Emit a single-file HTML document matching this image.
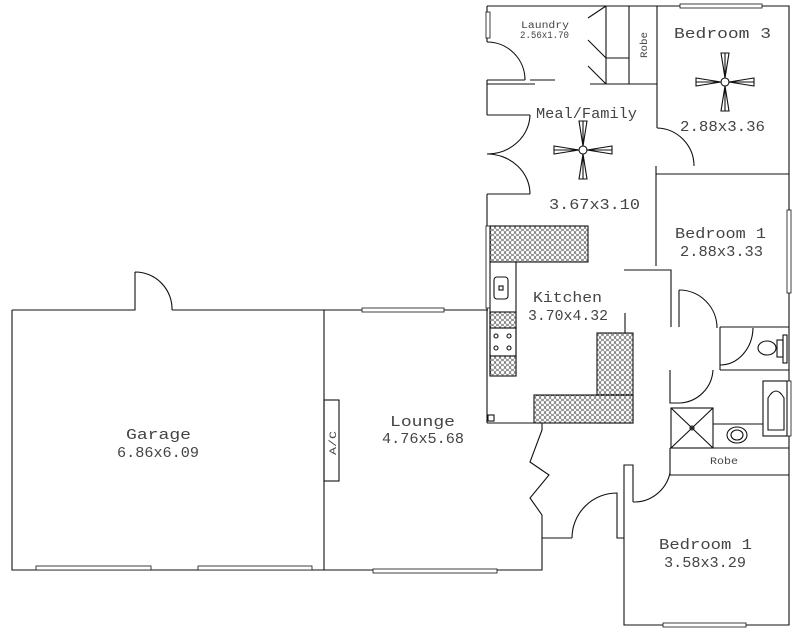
<!DOCTYPE html>
<html><head><meta charset="utf-8"><style>
html,body{margin:0;padding:0;background:#fff;}
svg{display:block}
text{font-family:"Liberation Mono","DejaVu Sans Mono",monospace;fill:#444;}
</style></head><body>
<svg width="800" height="634" viewBox="0 0 800 634" xmlns="http://www.w3.org/2000/svg">
<defs>
<pattern id="h" width="5" height="5" patternUnits="userSpaceOnUse">
<rect width="5" height="5" fill="#fff"/><circle cx="2.5" cy="2.5" r="2" fill="none" stroke="#333" stroke-width="0.6"/>
</pattern>
</defs>
<g fill="none" stroke="#111" stroke-width="1.1">
<path d="M12 310 H135 V272 M135 272 A37 37 0 0 1 172 310 M172 310 H488"/>
<path d="M12 310 V570 H542 V538 H572"/>
<path d="M572 538 A45 45 0 0 1 617 493 V538 H624"/>
<path d="M324 310 V570"/>
<rect x="324" y="400" width="15" height="81"/>
<g stroke-width="0.8" fill="#fff">
<rect x="36" y="566" width="115" height="4"/>
<rect x="198" y="566" width="114" height="4"/>
<rect x="373" y="569" width="124" height="4"/>
<rect x="362" y="308" width="82" height="4"/>
</g>
<path d="M542 423 L542 430 L530 462 L549 475 L530 498 L542 515 L542 538"/>
<path d="M487 423 H534"/>
<rect x="488" y="415" width="6" height="6"/>
<path d="M625 313 V333"/>
<rect x="597" y="333" width="36" height="90" fill="url(#h)"/>
<rect x="534" y="395" width="99" height="28" fill="url(#h)"/>
<path d="M487 6 H789 V625 H624 V465 H633 V502"/>
<path d="M633 502 A37 37 0 0 0 670 473"/>
<path d="M487 6 V42 M487 80 V115 M487 194 V423"/>
<path d="M487 42 A38 38 0 0 1 525 80"/>
<path d="M487 80 H525 M530 80 H555 M590 84 H606 M487 84 H535"/>
<path d="M606 6 V84 M629 6 V84 M657 6 V128 M606 58 H629 M606 84 H657"/>
<path d="M588 18 L606 6 M588 40 L606 58 M588 66 L606 84"/>
<path d="M487 115 H530 M530 115 A43 40 0 0 1 487 154 M487 154 A43 40 0 0 1 530 194 M530 194 H487"/>
<path d="M657 128 A38 38 0 0 1 694 166 M656 166 V266 M656 174 H789"/>
<path d="M624 270 H671 V327 M679 290 V327"/>
<path d="M679 290 A38 38 0 0 1 717 328"/>
<path d="M720 327 H789 M753 328 A33 38 0 0 1 720 365 M720 327 V370 M720 370 H789"/>
<g stroke-width="0.8" fill="#fff">
<rect x="486" y="12" width="4" height="26"/>
<rect x="680" y="4" width="82" height="4"/>
<rect x="787" y="210" width="4" height="83"/>
<rect x="787" y="381" width="4" height="55"/>
<rect x="663" y="623" width="83" height="4"/>
<rect x="486" y="226" width="4" height="82"/>
</g>
<ellipse cx="767" cy="348" rx="9" ry="7"/>
<rect x="777" y="340" width="6" height="17"/>
<rect x="783" y="335" width="4" height="28"/>
<path d="M670 370 V403 H680 M680 403 A35 35 0 0 0 713 370"/>
<rect x="671" y="408" width="42" height="40"/>
<path d="M671 408 L713 448 M713 408 L671 448"/>
<circle cx="692" cy="428" r="2"/>
<path d="M713 424 H763"/>
<rect x="763" y="381" width="24" height="55"/>
<path d="M768 430 V398 Q776 384 784 398 V430 Z"/>
<ellipse cx="737" cy="435" rx="10" ry="8"/>
<ellipse cx="737" cy="435" rx="6" ry="5"/>
<path d="M670 448 H789 M670 475 H789 M670 448 V475"/>
<rect x="490" y="226" width="98" height="36" fill="url(#h)"/>
<path d="M490 262 V376 M516 262 V376 H490"/>
<rect x="494" y="277" width="14" height="22" rx="3"/>
<rect x="499" y="286" width="4" height="4"/>
<rect x="490" y="312" width="26" height="16" fill="url(#h)"/>
<rect x="490" y="328" width="26" height="28"/>
<circle cx="496" cy="336" r="2"/><circle cx="509" cy="336" r="2"/>
<circle cx="496" cy="348" r="2"/><circle cx="509" cy="348" r="2"/>
<rect x="490" y="356" width="26" height="20" fill="url(#h)"/>
<g transform="translate(583,150)">
<circle r="4"/>
<path d="M-4 0 L-29 -4 L-29 4 Z M4 0 L29 -4 L29 4 Z M0 -4 L-4 -29 L4 -29 Z M0 4 L-4 29 L4 29 Z"/>
<path d="M-4 0 H-29 M4 0 H29 M0 -4 V-29 M0 4 V29"/>
</g>
<g transform="translate(725,82)">
<circle r="4"/>
<path d="M-4 0 L-29 -4 L-29 4 Z M4 0 L29 -4 L29 4 Z M0 -4 L-4 -29 L4 -29 Z M0 4 L-4 29 L4 29 Z"/>
<path d="M-4 0 H-29 M4 0 H29 M0 -4 V-29 M0 4 V29"/>
</g>
</g>
<g font-size="15" lengthAdjust="spacingAndGlyphs">
<text x="521" y="28" font-size="10" textLength="48" lengthAdjust="spacingAndGlyphs">Laundry</text>
<text x="520" y="38" font-size="10" textLength="49" lengthAdjust="spacingAndGlyphs">2.56x1.70</text>
<text x="647" y="58" font-size="10" transform="rotate(-90 647 58)" textLength="26" lengthAdjust="spacingAndGlyphs">Robe</text>
<text x="674" y="38" textLength="97" lengthAdjust="spacingAndGlyphs">Bedroom 3</text>
<text x="680" y="131" textLength="85" lengthAdjust="spacingAndGlyphs">2.88x3.36</text>
<text x="536" y="118" textLength="101" lengthAdjust="spacingAndGlyphs">Meal/Family</text>
<text x="549" y="209" textLength="91" lengthAdjust="spacingAndGlyphs">3.67x3.10</text>
<text x="675" y="238" textLength="91" lengthAdjust="spacingAndGlyphs">Bedroom 1</text>
<text x="680" y="256" textLength="83" lengthAdjust="spacingAndGlyphs">2.88x3.33</text>
<text x="533" y="302" textLength="69" lengthAdjust="spacingAndGlyphs">Kitchen</text>
<text x="528" y="320" textLength="80" lengthAdjust="spacingAndGlyphs">3.70x4.32</text>
<text x="390" y="426" textLength="65" lengthAdjust="spacingAndGlyphs">Lounge</text>
<text x="382" y="443" textLength="82" lengthAdjust="spacingAndGlyphs">4.76x5.68</text>
<text x="126" y="439" textLength="65" lengthAdjust="spacingAndGlyphs">Garage</text>
<text x="117" y="457" textLength="82" lengthAdjust="spacingAndGlyphs">6.86x6.09</text>
<text x="336" y="455" font-size="10" transform="rotate(-90 336 455)" textLength="24" lengthAdjust="spacingAndGlyphs">A/C</text>
<text x="710" y="464" font-size="10" textLength="28" lengthAdjust="spacingAndGlyphs">Robe</text>
<text x="659" y="549" textLength="93" lengthAdjust="spacingAndGlyphs">Bedroom 1</text>
<text x="664" y="567" textLength="82" lengthAdjust="spacingAndGlyphs">3.58x3.29</text>
</g>
</svg>
</body></html>
